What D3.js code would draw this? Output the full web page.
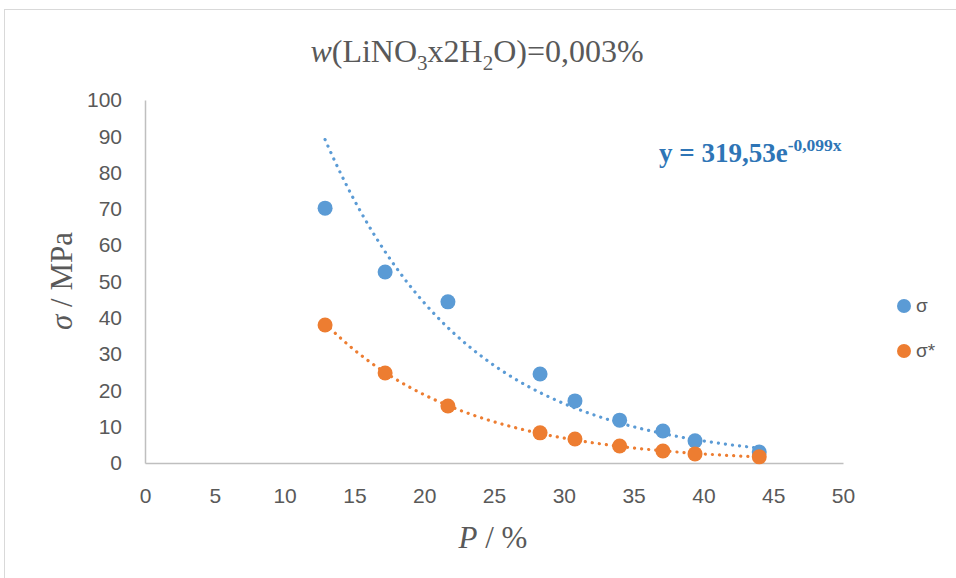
<!DOCTYPE html>
<html><head><meta charset="utf-8">
<script src="https://cdn.jsdelivr.net/npm/d3@7"></script>
<style>body{margin:0;background:#fff}svg{display:block}</style>
</head><body>
<script>
const P = [12.9, 17.2, 21.7, 28.3, 30.8, 34.0, 37.1, 39.4, 44.0];
const sigma = [70.2, 52.6, 44.4, 24.5, 17.1, 11.8, 8.8, 6.1, 3.0];
const sigmaStar = [38.0, 24.8, 15.7, 8.3, 6.6, 4.7, 3.3, 2.5, 1.7];
const xTicks = [0, 5, 10, 15, 20, 25, 30, 35, 40, 45, 50];
const yTicks = [0, 10, 20, 30, 40, 50, 60, 70, 80, 90, 100];
const trendA = 319.53, trendB = -0.099;

const W = 956, H = 578;
const svg = d3.select("body").append("svg").attr("width", W).attr("height", H);
svg.append("rect").attr("x", 4.5).attr("y", 9.5).attr("width", W).attr("height", H)
  .attr("fill", "#fff").attr("stroke", "#d9d9d9").attr("stroke-width", 1);

const x = d3.scaleLinear().domain([0, 50]).range([145, 843]);
const y = d3.scaleLinear().domain([0, 100]).range([463, 100]);

const gray = "#595959";
const tickFont = "'Liberation Sans', Arial, sans-serif";

// axes
const xa = svg.append("g").attr("transform", "translate(0,463)")
  .call(d3.axisBottom(x).tickValues(xTicks).tickSize(0).tickPadding(25));
const ya = svg.append("g").attr("transform", "translate(145,0)")
  .call(d3.axisLeft(y).tickValues(yTicks).tickSize(0).tickPadding(23));
[xa, ya].forEach(g => {
  g.select(".domain").attr("stroke", "#bfbfbf").attr("stroke-width", 1.5);
  g.selectAll("text").attr("fill", gray).style("font-family", tickFont).style("font-size", "21px");
});

// trendlines
function fitExp(xs, ys) {
  const n = xs.length, ly = ys.map(Math.log);
  const mx = d3.mean(xs), my = d3.mean(ly);
  let sxy = 0, sxx = 0;
  for (let i = 0; i < n; i++) { sxy += (xs[i]-mx)*(ly[i]-my); sxx += (xs[i]-mx)**2; }
  const b = sxy / sxx; return { a: Math.exp(my - b*mx), b };
}
const fitStar = fitExp(P, sigmaStar);
const xs = d3.range(P[0], P[P.length-1] + 0.001, 0.2);
const line = d3.line().x(d => x(d[0])).y(d => y(d[1])).curve(d3.curveLinear);
svg.append("path").datum(xs.map(v => [v, trendA*Math.exp(trendB*v)]))
  .attr("d", line).attr("fill", "none").attr("stroke", "#5B9BD5")
  .attr("stroke-width", 3.2).attr("stroke-linecap", "round").attr("stroke-dasharray", "0.1 7");
svg.append("path").datum(xs.map(v => [v, fitStar.a*Math.exp(fitStar.b*v)]))
  .attr("d", line).attr("fill", "none").attr("stroke", "#ED7D31")
  .attr("stroke-width", 3.2).attr("stroke-linecap", "round").attr("stroke-dasharray", "0.1 7");

// points
svg.append("g").selectAll("circle").data(P).join("circle")
  .attr("cx", (d) => x(d)).attr("cy", (d, i) => y(sigma[i])).attr("r", 7.5).attr("fill", "#5B9BD5");
svg.append("g").selectAll("circle").data(P).join("circle")
  .attr("cx", (d) => x(d)).attr("cy", (d, i) => y(sigmaStar[i])).attr("r", 7.5).attr("fill", "#ED7D31");

const serif = "'Liberation Serif', 'Times New Roman', serif";
// title
const t = svg.append("text").attr("x", 477).attr("y", 62).attr("text-anchor", "middle")
  .attr("fill", gray).style("font-family", serif).style("font-size", "32px");
t.append("tspan").attr("font-style", "italic").text("w");
t.append("tspan").text("(LiNO");
t.append("tspan").attr("font-size", "21px").attr("dy", 8).text("3");
t.append("tspan").attr("dy", -8).text("x2H");
t.append("tspan").attr("font-size", "21px").attr("dy", 8).text("2");
t.append("tspan").attr("dy", -8).text("O)=0,003%");

// equation
const eq = svg.append("text").attr("x", 659).attr("y", 162).attr("fill", "#2E75B6")
  .style("font-family", serif).style("font-size", "27px").style("font-weight", "bold");
eq.append("tspan").text("y = 319,53e");
eq.append("tspan").attr("font-size", "17.5px").attr("dy", -11).text("-0,099x");

// axis titles
const yl = svg.append("text").attr("transform", "translate(72,281) rotate(-90)").attr("text-anchor", "middle")
  .attr("fill", gray).style("font-family", serif).style("font-size", "31px");
yl.append("tspan").attr("font-style", "italic").text("σ");
yl.append("tspan").text(" / MPa");
const xl = svg.append("text").attr("x", 493).attr("y", 548).attr("text-anchor", "middle")
  .attr("fill", gray).style("font-family", serif).style("font-size", "31px");
xl.append("tspan").attr("font-style", "italic").text("P");
xl.append("tspan").text(" / %");

// legend
const legend = [["σ", "#5B9BD5"], ["σ*", "#ED7D31"]];
const lg = svg.append("g").selectAll("g").data(legend).join("g")
  .attr("transform", (d, i) => `translate(904,${306 + i*45})`);
lg.append("circle").attr("r", 7).attr("fill", d => d[1]);
lg.append("text").attr("x", 12).attr("y", 6).attr("fill", gray)
  .style("font-family", tickFont).style("font-size", "19px").text(d => d[0]);
</script>
</body></html>
